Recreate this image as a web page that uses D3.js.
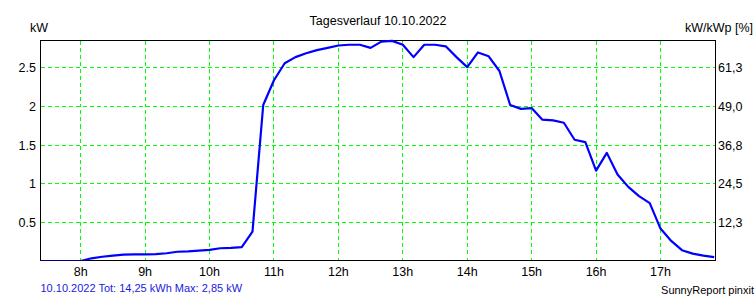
<!DOCTYPE html>
<html>
<head>
<meta charset="utf-8">
<script src="https://cdn.jsdelivr.net/npm/d3@7"></script>
<style>
  html, body { margin: 0; padding: 0; background: #fff; }
  svg { display: block; font-family: "Liberation Sans", Arial, sans-serif; }
</style>
</head>
<body>
<script>
// ---------- data ----------
const times = ["7:20", "7:30", "7:40", "7:50", "8:00", "8:10", "8:20", "8:30", "8:40", "8:50",
  "9:00", "9:10", "9:20", "9:30", "9:40", "9:50", "10:00", "10:10", "10:20", "10:30",
  "10:40", "10:50", "11:00", "11:10", "11:20", "11:30", "11:40", "11:50", "12:00", "12:10",
  "12:20", "12:30", "12:40", "12:50", "13:00", "13:10", "13:20", "13:30", "13:40", "13:50",
  "14:00", "14:10", "14:20", "14:30", "14:40", "14:50", "15:00", "15:10", "15:20", "15:30",
  "15:40", "15:50", "16:00", "16:10", "16:20", "16:30", "16:40", "16:50", "17:00", "17:10",
  "17:20", "17:30", "17:40", "17:50"];
const power = [0, 0, 0, 0, 0, 0.035, 0.055, 0.07, 0.083, 0.085,
  0.085, 0.09, 0.1, 0.12, 0.125, 0.135, 0.145, 0.165, 0.17, 0.18,
  0.38, 2.02, 2.34, 2.56, 2.64, 2.69, 2.73, 2.76, 2.79, 2.8,
  2.8, 2.76, 2.84, 2.85, 2.8, 2.64, 2.8, 2.8, 2.78, 2.64,
  2.51, 2.7, 2.65, 2.46, 2.02, 1.97, 1.98, 1.83, 1.82, 1.79,
  1.57, 1.54, 1.17, 1.4, 1.12, 0.96, 0.84, 0.75, 0.42, 0.26,
  0.14, 0.095, 0.07, 0.05];
const hourTicks = [8, 9, 10, 11, 12, 13, 14, 15, 16, 17];
const kwTicks = [0.5, 1, 1.5, 2, 2.5];
const kwTickLabels = ["0.5", "1", "1.5", "2", "2.5"];
const pctTickLabels = ["12,3", "24,5", "36,8", "49,0", "61,3"];

// ---------- layout ----------
const width = 756, height = 300;
const plotLeft = 40.5, plotRight = 715.5, plotTop = 40.5, plotBottom = 260.5;

const svg = d3.select("body").append("svg").attr("width", width).attr("height", height);

const toHours = (s) => { const p = s.split(":"); return +p[0] + +p[1] / 60; };
const x = d3.scaleLinear().domain([7.376, 17.854]).range([plotLeft, plotRight]);
const y = d3.scaleLinear().domain([0, 2.855]).range([261, plotTop]);
const crisp = (v) => Math.round(v - 0.5) + 0.5;

// ---------- grid ----------
const grid = svg.append("g").attr("stroke", "#00ff00").attr("stroke-width", 1)
  .attr("stroke-dasharray", "4,3").attr("shape-rendering", "crispEdges");

grid.selectAll("line.h").data(kwTicks).enter().append("line")
  .attr("x1", plotLeft).attr("x2", plotRight)
  .attr("y1", (d) => crisp(y(d))).attr("y2", (d) => crisp(y(d)));

grid.selectAll("line.v").data(hourTicks).enter().append("line")
  .attr("y1", plotTop).attr("y2", plotBottom)
  .attr("x1", (d) => crisp(x(d))).attr("x2", (d) => crisp(x(d)));

// ---------- frame ----------
svg.append("rect").attr("x", plotLeft).attr("y", plotTop)
  .attr("width", plotRight - plotLeft).attr("height", plotBottom - plotTop - 0.5)
  .attr("fill", "none").attr("stroke", "#000").attr("stroke-width", 1)
  .attr("shape-rendering", "crispEdges");

// ---------- line ----------
svg.append("clipPath").attr("id", "plot").append("rect")
  .attr("x", plotLeft).attr("y", 0).attr("width", plotRight - plotLeft).attr("height", plotBottom);

const line = d3.line().x((d, i) => x(toHours(times[i]))).y((d) => y(d));

svg.append("path").datum(power)
  .attr("clip-path", "url(#plot)")
  .attr("d", line)
  .attr("fill", "none").attr("stroke", "#0000ff").attr("stroke-width", 2.2)
  .attr("stroke-linejoin", "round");

// ---------- axes labels ----------
const fs = 12.5;
svg.selectAll("text.yl").data(kwTicks).enter().append("text")
  .attr("x", 36).attr("y", (d) => y(d) + 4.5).attr("text-anchor", "end")
  .attr("font-size", fs).text((d, i) => kwTickLabels[i]);

svg.selectAll("text.yr").data(kwTicks).enter().append("text")
  .attr("x", 718).attr("y", (d) => y(d) + 4.5)
  .attr("font-size", fs).text((d, i) => pctTickLabels[i]);

svg.selectAll("text.xl").data(hourTicks).enter().append("text")
  .attr("x", (d) => x(d)).attr("y", 276).attr("text-anchor", "middle")
  .attr("font-size", fs).text((d) => d + "h");

svg.append("text").attr("x", 30).attr("y", 32).attr("font-size", fs).text("kW");
svg.append("text").attr("x", 753).attr("y", 32).attr("text-anchor", "end")
  .attr("font-size", fs).text("kW/kWp [%]");
svg.append("text").attr("x", (plotLeft + plotRight) / 2).attr("y", 25).attr("text-anchor", "middle")
  .attr("font-size", fs).text("Tagesverlauf 10.10.2022");

// ---------- footer ----------
svg.append("text").attr("x", 40.5).attr("y", 292).attr("font-size", 11)
  .attr("fill", "#1a1ae0").text("10.10.2022 Tot: 14,25 kWh Max: 2,85 kW");
svg.append("text").attr("x", 754).attr("y", 294).attr("text-anchor", "end")
  .attr("font-size", 11).text("SunnyReport pinxit");
</script>
</body>
</html>
